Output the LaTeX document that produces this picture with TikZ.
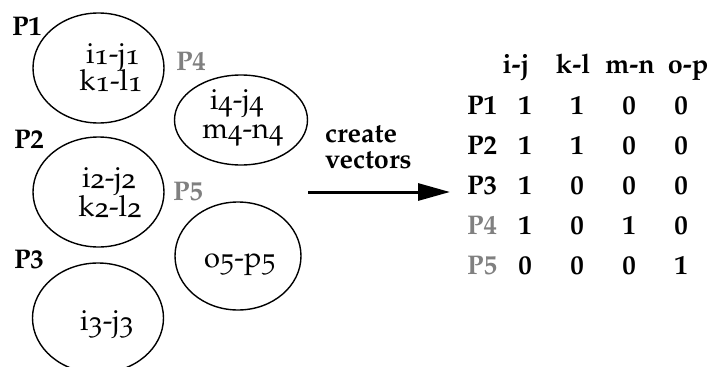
\documentclass[tikz,border=0pt]{standalone}
\usepackage[T1]{fontenc}
\usepackage{mathpazo}
\usetikzlibrary{arrows.meta,shapes.geometric}
\definecolor{pgray}{RGB}{128,128,128}
\newcommand{\lo}[1]{\raisebox{-1.5pt}{#1}}
\tikzset{
  txt/.style={inner sep=0pt, anchor=base, font=\fontsize{29}{33}\fontfamily{pplj}\selectfont},
  lbl/.style={inner sep=0pt, anchor=base, font=\fontsize{27}{31}\fontfamily{pplx}\bfseries\selectfont},
  glbl/.style={lbl, text=pgray},
  oval/.style={draw, ellipse, line width=1.4pt, inner sep=0pt},
  vec/.style={line width=3pt, -{Triangle[length=32pt,width=17pt]}},
}
\begin{document}
\begin{tikzpicture}[x=1pt,y=-1pt]
\useasboundingbox (0,0) rectangle (710,367);
% ellipses
\node[oval, minimum width=131pt, minimum height=110pt] (e1) at (98.5,68) {};
\node[oval, minimum width=133pt, minimum height=90pt] (e4) at (241,120) {};
\node[oval, minimum width=131pt, minimum height=110pt] (e2) at (98.5,192) {};
\node[oval, minimum width=126pt, minimum height=108pt] (e5) at (238,256) {};
\node[oval, minimum width=131pt, minimum height=110pt] (e3) at (98,318) {};
% ellipse contents
\node[txt] (t1a) at (113,63) {i\lo{1}-j\lo{1}};
\node[txt] (t1b) at (111,90) {k\lo{1}-l\lo{1}};
\node[txt] (t4a) at (237,109) {i\lo{4}-j\lo{4}};
\node[txt] (t4b) at (243,138) {m\lo{4}-n\lo{4}};
\node[txt] (t2a) at (109,187) {i\lo{2}-j\lo{2}};
\node[txt] (t2b) at (110,216) {k\lo{2}-l\lo{2}};
\node[txt] (t5) at (240,267) {o\lo{5}-p\lo{5}};
\node[txt] (t3) at (107,330) {i\lo{3}-j\lo{3}};
% labels
\node[lbl] (p1) at (27,35) {P1};
\node[glbl] (p4) at (191,70) {P4};
\node[lbl] (p2) at (29,148) {P2};
\node[glbl] (p5) at (188,200) {P5};
\node[lbl] (p3) at (29,268) {P3};
% arrow
\node[lbl, anchor=base west] (c1) at (325,142) {create};
\node[lbl, anchor=base west] (c2) at (325,168) {vectors};
\coordinate (as) at (308,192);
\coordinate (ae) at (450,192);
\draw[vec] (as) -- (ae);
% table header
\node[lbl] (h1) at (516,73) {i-j};
\node[lbl] (h2) at (573,73) {k-l};
\node[lbl] (h3) at (630,73) {m-n};
\node[lbl] (h4) at (688,73) {o-p};
% rows
\node[lbl] (r1) at (482,114) {P1};
\node[lbl] (r2) at (482,154) {P2};
\node[lbl] (r3) at (482,194) {P3};
\node[glbl] (r4) at (482,234) {P4};
\node[glbl] (r5) at (482,274) {P5};
\node[lbl] (v11) at (525,114) {1};
\node[lbl] (v12) at (577,114) {1};
\node[lbl] (v13) at (629,114) {0};
\node[lbl] (v14) at (681,114) {0};
\node[lbl] (v21) at (525,154) {1};
\node[lbl] (v22) at (577,154) {1};
\node[lbl] (v23) at (629,154) {0};
\node[lbl] (v24) at (681,154) {0};
\node[lbl] (v31) at (525,194) {1};
\node[lbl] (v32) at (577,194) {0};
\node[lbl] (v33) at (629,194) {0};
\node[lbl] (v34) at (681,194) {0};
\node[lbl] (v41) at (525,234) {1};
\node[lbl] (v42) at (577,234) {0};
\node[lbl] (v43) at (629,234) {1};
\node[lbl] (v44) at (681,234) {0};
\node[lbl] (v51) at (525,274) {0};
\node[lbl] (v52) at (577,274) {0};
\node[lbl] (v53) at (629,274) {0};
\node[lbl] (v54) at (681,274) {1};
\end{tikzpicture}
\end{document}
